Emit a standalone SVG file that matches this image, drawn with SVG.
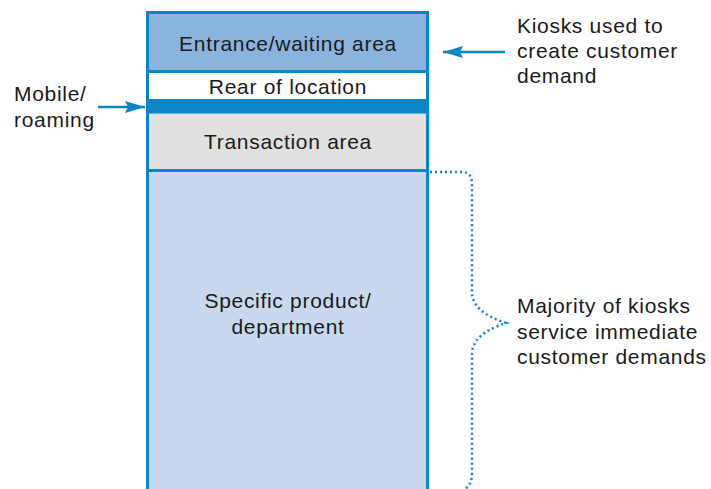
<svg xmlns="http://www.w3.org/2000/svg" width="711" height="489" viewBox="0 0 711 489">
  <style>
    text { font-family: "Liberation Sans", Arial, sans-serif; font-size: 21px; letter-spacing: 0.7px; fill: #1a1a1a; }
    .c { text-anchor: middle; }
    .arrow { stroke: #0a86c8; stroke-width: 2.5; fill: none; }
    .brace { stroke: #0a86c8; stroke-width: 2.5; fill: none; stroke-dasharray: 2 3; }
  </style>
  <defs>
    <marker id="head" viewBox="0 0 20 12" refX="20" refY="6" markerWidth="20" markerHeight="12" orient="auto" markerUnits="userSpaceOnUse">
      <path d="M0,0 L20,6 L0,12 L3,6 Z" fill="#0a86c8"/>
    </marker>
  </defs>

  <rect width="711" height="489" fill="#ffffff"/>

  <!-- store zones, top to bottom -->
  <g id="entrance">
    <rect x="147.5" y="12.5" width="280" height="59" fill="#8ab4de" stroke="#0a86c8" stroke-width="3"/>
    <text class="c" x="288" y="51">Entrance/waiting area</text>
  </g>
  <g id="rear">
    <rect x="147.5" y="71.5" width="280" height="29" fill="#ffffff" stroke="#0a86c8" stroke-width="3"/>
    <text class="c" x="288" y="94">Rear of location</text>
  </g>
  <g id="mobile-band">
    <rect x="146" y="100" width="283" height="12" fill="#0a86c8"/>
  </g>
  <g id="transaction">
    <rect x="147.5" y="112" width="280" height="58.5" fill="#e0e0e0" stroke="#0a86c8" stroke-width="3"/>
    <text class="c" x="288" y="149">Transaction area</text>
  </g>
  <g id="product">
    <rect x="147.5" y="170.5" width="280" height="330" fill="#c8d9ee" stroke="#0a86c8" stroke-width="3"/>
    <text class="c" x="288" y="308">Specific product/</text>
    <text class="c" x="288" y="334">department</text>
  </g>

  <!-- side labels -->
  <g id="mobile-label">
    <text x="14" y="101">Mobile/</text>
    <text x="14" y="127">roaming</text>
  </g>
  <g id="kiosk-demand-label">
    <text x="517" y="33">Kiosks used to</text>
    <text x="517" y="58">create customer</text>
    <text x="517" y="83">demand</text>
  </g>
  <g id="majority-label">
    <text x="517" y="313">Majority of kiosks</text>
    <text x="517" y="339">service immediate</text>
    <text x="517" y="364">customer demands</text>
  </g>

  <!-- connectors -->
  <g id="connectors">
    <line class="arrow" x1="98" y1="107" x2="145" y2="107" marker-end="url(#head)"/>
    <line class="arrow" x1="505" y1="52" x2="443" y2="52" marker-end="url(#head)"/>
    <path class="brace" d="M430,172 L462,172 Q472,172 472,184 L472,292 Q472,312 506,323 Q472,334 472,354 L472,474 Q472,484 465,489"/>
  </g>
</svg>
